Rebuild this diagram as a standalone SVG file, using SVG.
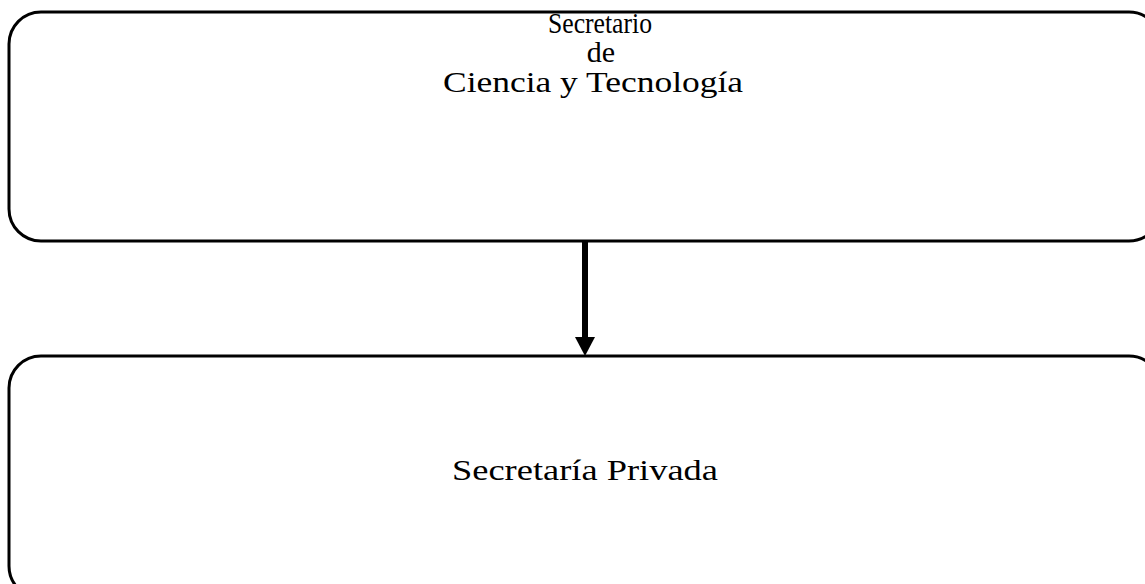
<svg xmlns="http://www.w3.org/2000/svg" width="1145" height="584" viewBox="0 0 1145 584">
<style>
.box{fill:#fff;stroke:#000;stroke-width:3}
.t{font-family:"Liberation Serif","Times New Roman",serif;font-size:30px;fill:#000;text-anchor:middle}
.conn{stroke:#000;stroke-width:6;fill:none}
</style>
<rect width="1145" height="584" fill="#fff"/>
<g id="node-secretario">
<rect class="box" x="9" y="12" width="1152" height="229" rx="32" ry="32"/>
<text class="t" x="600" y="33" font-size="30" textLength="104" lengthAdjust="spacingAndGlyphs">Secretario</text>
<text class="t" x="601" y="62" font-size="31">de</text>
<text class="t" x="593" y="92" font-size="31" textLength="300" lengthAdjust="spacingAndGlyphs">Ciencia y Tecnología</text>
</g>
<g id="node-privada">
<rect class="box" x="9" y="356" width="1152" height="242" rx="32" ry="32"/>
<text class="t" x="585" y="480" textLength="266" lengthAdjust="spacingAndGlyphs">Secretaría Privada</text>
</g>
<g id="connectors">
<line class="conn" x1="585" y1="242" x2="585" y2="339"/>
<polygon points="575,337 595,337 585,356" fill="#000"/>
</g>
</svg>
